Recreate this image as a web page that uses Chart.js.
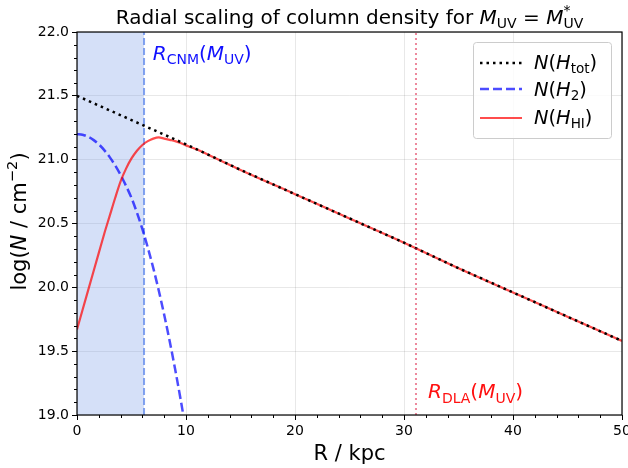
<!DOCTYPE html>
<html lang="en">
<head>
<meta charset="UTF-8">
<title>Radial scaling of column density</title>
<script src="https://cdn.jsdelivr.net/npm/chart.js"></script>
<style>
  html, body { margin: 0; padding: 0; background: white; }
</style>
</head>
<body>
<canvas id="radialChart" width="628" height="468"></canvas>
<script>
// radius grid (kpc) for the inner part
const radiusInner = [0, 0.5, 1, 1.5, 2, 2.5, 3, 3.5, 4, 4.5, 5, 5.5, 6, 6.5, 7, 7.5, 8, 8.5, 9, 9.5, 10];
const logH2 = [21.20, 21.195, 21.18, 21.155, 21.12, 21.075, 21.02, 20.955, 20.88, 20.795, 20.70, 20.585, 20.455, 20.31, 20.15, 19.975, 19.785, 19.58, 19.36, 19.125, 18.875];
const logHIInner = [19.67, 19.82, 19.97, 20.12, 20.27, 20.42, 20.56, 20.70, 20.83, 20.93, 21.01, 21.07, 21.115, 21.145, 21.165, 21.175, 21.165, 21.155, 21.145, 21.13, 21.112];

// outer part, HI follows the total
const radiusOuter = [11, 12, 15, 20, 25, 30, 35, 40, 45, 50];
const logHIOuter = [21.08, 21.04, 20.92, 20.73, 20.54, 20.35, 20.15, 19.96, 19.77, 19.58];

const radiusTot = [0, 5, 10, 15, 20, 25, 30, 35, 40, 45, 50];
const logTot = [21.50, 21.31, 21.12, 20.92, 20.73, 20.54, 20.35, 20.15, 19.96, 19.77, 19.58];

const R_CNM = 6.15;
const R_DLA = 31.1;

const xTicks = [0, 10, 20, 30, 40, 50];
const yTicks = [19.0, 19.5, 20.0, 20.5, 21.0, 21.5, 22.0];

const FONT = '"DejaVu Sans", sans-serif';

function pts(xs, ys) {
    return xs.map((x, i) => ({ x: x, y: ys[i] }));
}

// draw text with italic letters, subscripts and superscripts
function richParts(ctx, parts, size) {
    let out = [];
    let w = 0;
    parts.forEach(p => {
        let txt = p[0], kind = p[1];
        if (kind === 'ss') {
            ctx.font = (0.7 * size) + 'px ' + FONT;
            let w1 = ctx.measureText(txt[0]).width;
            let w2 = ctx.measureText(txt[1]).width;
            out.push({ kind, txt, x: w });
            w += Math.max(w1, w2);
        } else {
            let small = kind === 'sub' || kind === 'sup';
            let f = (kind === 'i' ? 'italic ' : '') + (small ? 0.7 * size : size) + 'px ' + FONT;
            ctx.font = f;
            let tw = ctx.measureText(txt).width;
            out.push({ kind, txt, x: w, font: f });
            w += tw;
        }
    });
    return { out, w };
}

function drawRich(ctx, parts, x, y, size, color, align) {
    ctx.save();
    ctx.fillStyle = color;
    ctx.textBaseline = 'alphabetic';
    ctx.textAlign = 'left';
    let r = richParts(ctx, parts, size);
    let x0 = x;
    if (align === 'center') x0 = x - r.w / 2;
    if (align === 'right') x0 = x - r.w;
    r.out.forEach(p => {
        if (p.kind === 'ss') {
            ctx.font = (0.7 * size) + 'px ' + FONT;
            ctx.fillText(p.txt[0], x0 + p.x, y - 0.45 * size);
            ctx.fillText(p.txt[1], x0 + p.x, y + 0.22 * size);
        } else {
            ctx.font = p.font;
            let dy = 0;
            if (p.kind === 'sub') dy = 0.22 * size;
            if (p.kind === 'sup') dy = -0.42 * size;
            ctx.fillText(p.txt, x0 + p.x, y + dy);
        }
    });
    ctx.restore();
}

const legendItems = [
    { parts: [['N', 'i'], ['(', 'r'], ['H', 'i'], ['tot', 'sub'], [')', 'r']], color: '#000', dash: [2.5, 4], width: 2.5 },
    { parts: [['N', 'i'], ['(', 'r'], ['H', 'i'], ['2', 'sub'], [')', 'r']], color: 'rgba(0,0,255,0.7)', dash: [9, 4], width: 2.5 },
    { parts: [['N', 'i'], ['(', 'r'], ['H', 'i'], ['HI', 'sub'], [')', 'r']], color: 'rgba(255,0,0,0.7)', dash: [], width: 2.2 }
];

const decorPlugin = {
    id: 'decor',
    afterDraw(chart) {
        const ctx = chart.ctx;
        const a = chart.chartArea;
        const xs = chart.scales.x, ys = chart.scales.y;

        // minor ticks
        ctx.save();
        ctx.strokeStyle = '#000';
        ctx.lineWidth = 1;
        ctx.beginPath();
        for (let i = 0; i <= 25; i++) {
            if (i % 5 === 0) continue;
            let px = Math.round(xs.getPixelForValue(i * 2)) + 0.5;
            ctx.moveTo(px, a.bottom);
            ctx.lineTo(px, a.bottom + 3);
        }
        for (let i = 0; i <= 30; i++) {
            if (i % 5 === 0) continue;
            let py = Math.round(ys.getPixelForValue(19 + i / 10)) + 0.5;
            ctx.moveTo(a.left, py);
            ctx.lineTo(a.left - 3, py);
        }
        ctx.stroke();

        // frame
        ctx.lineWidth = 1.2;
        ctx.strokeRect(a.left, a.top, a.right - a.left, a.bottom - a.top);
        ctx.restore();

        // annotations
        drawRich(ctx, [['R', 'i'], ['CNM', 'sub'], ['(', 'r'], ['M', 'i'], ['UV', 'sub'], [')', 'r']],
            xs.getPixelForValue(R_CNM + 0.8), ys.getPixelForValue(21.78), 20, '#1010ff', 'left');
        drawRich(ctx, [['R', 'i'], ['DLA', 'sub'], ['(', 'r'], ['M', 'i'], ['UV', 'sub'], [')', 'r']],
            xs.getPixelForValue(R_DLA + 1.1), ys.getPixelForValue(19.13), 20, '#ff1010', 'left');

        // title
        drawRich(ctx, [['Radial scaling of column density for ', 'r'], ['M', 'i'], ['UV', 'sub'], [' = ', 'r'], ['M', 'i'], [['*', 'UV'], 'ss']],
            (a.left + a.right) / 2, 24, 20, '#000', 'center');

        // axis labels
        drawRich(ctx, [['R / kpc', 'r']], (a.left + a.right) / 2, 460, 21, '#000', 'center');
        ctx.save();
        ctx.translate(26, (a.top + a.bottom) / 2 - 2);
        ctx.rotate(-Math.PI / 2);
        drawRich(ctx, [['log(', 'r'], ['N', 'i'], [' / cm', 'r'], ['\u22122', 'sup'], [')', 'r']], 0, 0, 21, '#000', 'center');
        ctx.restore();

        // legend
        ctx.save();
        ctx.fillStyle = 'rgba(255,255,255,0.8)';
        ctx.strokeStyle = '#cccccc';
        ctx.lineWidth = 1;
        ctx.beginPath();
        ctx.roundRect(473.5, 42.5, 138, 96, 3);
        ctx.fill();
        ctx.stroke();
        const rowsLine = [63, 89, 118];
        const rowsText = [69, 96, 124];
        legendItems.forEach((it, i) => {
            ctx.save();
            ctx.strokeStyle = it.color;
            ctx.lineWidth = it.width;
            ctx.setLineDash(it.dash);
            ctx.beginPath();
            ctx.moveTo(480, rowsLine[i]);
            ctx.lineTo(522, rowsLine[i]);
            ctx.stroke();
            ctx.restore();
            drawRich(ctx, it.parts, 534, rowsText[i], 19.4, '#000', 'left');
        });
        ctx.restore();
    }
};

const gridColor = 'rgba(0,0,0,0.09)';

new Chart(document.getElementById('radialChart'), {
    type: 'line',
    data: {
        datasets: [
            {
                label: 'CNM region',
                data: [{ x: 0, y: 22 }, { x: R_CNM, y: 22 }],
                fill: 'start',
                backgroundColor: 'rgba(100,140,230,0.27)',
                borderWidth: 0,
                pointRadius: 0,
                order: 10
            },
            {
                label: 'R_CNM',
                data: [{ x: R_CNM, y: 19 }, { x: R_CNM, y: 22 }],
                borderColor: 'rgba(100,140,235,0.8)',
                borderWidth: 2,
                borderDash: [7, 3],
                pointRadius: 0,
                order: 5
            },
            {
                label: 'N(H2)',
                data: pts(radiusInner, logH2),
                borderColor: 'rgba(0,0,255,0.7)',
                borderWidth: 2.5,
                borderDash: [9, 4],
                pointRadius: 0,
                cubicInterpolationMode: 'monotone',
                order: 4
            },
            {
                label: 'N(HI)',
                data: pts(radiusInner.concat(radiusOuter), logHIInner.concat(logHIOuter)),
                borderColor: 'rgba(255,0,0,0.7)',
                borderWidth: 2.2,
                pointRadius: 0,
                cubicInterpolationMode: 'monotone',
                order: 3
            },
            {
                label: 'N(Htot)',
                data: pts(radiusTot, logTot),
                borderColor: '#000',
                borderWidth: 2.5,
                borderDash: [2.5, 4],
                pointRadius: 0,
                order: 2
            },
            {
                label: 'R_DLA',
                data: [{ x: R_DLA, y: 19 }, { x: R_DLA, y: 22 }],
                borderColor: 'rgba(220,20,60,0.5)',
                borderWidth: 2,
                borderDash: [2, 3],
                pointRadius: 0,
                order: 1
            }
        ]
    },
    options: {
        responsive: false,
        animation: false,
        layout: { padding: { top: 32, right: 6, left: 0, bottom: 0 } },
        plugins: { legend: { display: false }, tooltip: { enabled: false } },
        scales: {
            x: {
                type: 'linear',
                min: 0,
                max: 50,
                afterBuildTicks: s => { s.ticks = xTicks.map(v => ({ value: v })); },
                afterFit: s => { s.height = 53; s.paddingLeft = 0; s.paddingRight = 0; },
                ticks: { font: { family: FONT, size: 14 }, color: '#000', padding: 3, maxRotation: 0, callback: v => String(v) },
                grid: { color: gridColor, tickColor: '#000', tickLength: 5, tickWidth: 1 },
                border: { display: false }
            },
            y: {
                type: 'linear',
                min: 19,
                max: 22,
                afterBuildTicks: s => { s.ticks = yTicks.map(v => ({ value: v })); },
                afterFit: s => { s.width = 77; s.paddingTop = 0; s.paddingBottom = 0; },
                ticks: { font: { family: FONT, size: 14 }, color: '#000', padding: 3, callback: v => Number(v).toFixed(1) },
                grid: { color: gridColor, tickColor: '#000', tickLength: 5, tickWidth: 1 },
                border: { display: false }
            }
        }
    },
    plugins: [decorPlugin]
});
</script>
</body>
</html>
